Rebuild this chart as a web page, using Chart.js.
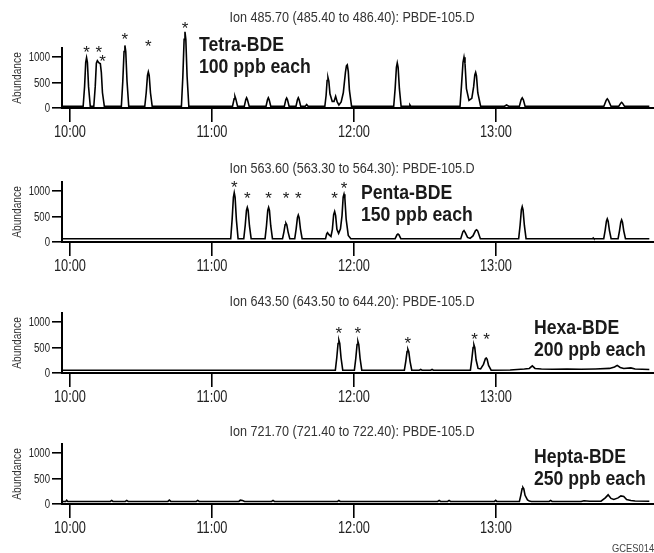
<!DOCTYPE html>
<html>
<head>
<meta charset="utf-8">
<script src="https://cdn.jsdelivr.net/npm/chart.js@4.4.1/dist/chart.umd.min.js"></script>
<style>
  body { margin: 0; background: #fff; }
  #page { position: relative; width: 654px; height: 553px; overflow: hidden; background: #fff; }
  #page canvas { position: absolute; left: 0; }
  #code { position: absolute; left: 612px; top: 542px; font: 11px 'Liberation Sans', Arial, sans-serif; color: #444;
          transform: scaleX(0.85); transform-origin: left top; white-space: nowrap; }
</style>
</head>
<body>
<div id="page">
  <canvas id="c0" width="654" height="140"></canvas>
  <canvas id="c1" width="654" height="140"></canvas>
  <canvas id="c2" width="654" height="140"></canvas>
  <canvas id="c3" width="654" height="140"></canvas>
  <div id="code">GCES014</div>
</div>
<script>
const FONT = "'Liberation Sans', Arial, sans-serif";

// titulos y etiquetas
const ionTitles = [
    'Ion 485.70 (485.40 to 486.40): PBDE-105.D',
    'Ion 563.60 (563.30 to 564.30): PBDE-105.D',
    'Ion 643.50 (643.50 to 644.20): PBDE-105.D',
    'Ion 721.70 (721.40 to 722.40): PBDE-105.D'
];
const groupNames = ['Tetra-BDE', 'Penta-BDE', 'Hexa-BDE', 'Hepta-BDE'];
const groupAmounts = ['100 ppb each', '150 ppb each', '200 ppb each', '250 ppb each'];

const xTicks = [10, 11, 12, 13];
const xTickLabels = ['10:00', '11:00', '12:00', '13:00'];
const yTicks = [0, 500, 1000];
const yTickLabels = ['0', '500', '1000'];

// trazas [minutos, abundancia]
const tetraTrace = [
    [9.944, 35], [10.093, 35], [10.103, 420], [10.111, 900], [10.117, 990], [10.123, 900], [10.131, 420], [10.143, 35],
    [10.168, 35], [10.178, 420], [10.186, 880], [10.193, 930], [10.203, 890], [10.214, 870], [10.221, 700], [10.229, 300], [10.242, 35],
    [10.362, 35], [10.372, 520], [10.381, 1110], [10.387, 1230], [10.393, 1110], [10.402, 520], [10.414, 35],
    [10.527, 35], [10.537, 300], [10.546, 640], [10.552, 710], [10.558, 640], [10.567, 300], [10.579, 35],
    [10.785, 35], [10.795, 620], [10.804, 1350], [10.810, 1500], [10.816, 1350], [10.825, 620], [10.837, 35],
    [11.145, 35], [11.156, 180], [11.162, 230], [11.168, 180], [11.180, 35],
    [11.228, 35], [11.238, 160], [11.244, 200], [11.250, 160], [11.262, 35],
    [11.381, 35], [11.391, 160], [11.397, 200], [11.403, 160], [11.414, 35],
    [11.510, 35], [11.520, 160], [11.526, 195], [11.532, 160], [11.543, 35],
    [11.592, 35], [11.602, 160], [11.608, 200], [11.614, 160], [11.625, 35],
    [11.657, 35], [11.667, 70], [11.677, 35],
    [11.795, 35], [11.804, 250], [11.811, 540], [11.817, 600], [11.823, 530], [11.831, 280], [11.847, 130],
    [11.860, 130], [11.871, 230], [11.882, 120], [11.894, 60], [11.910, 120], [11.925, 300], [11.940, 700],
    [11.947, 830], [11.953, 850], [11.960, 720], [11.968, 350], [11.983, 35],
    [12.280, 35], [12.290, 380], [12.299, 800], [12.305, 885], [12.311, 800], [12.320, 380], [12.332, 35],
    [12.388, 35], [12.394, 60], [12.400, 35],
    [12.747, 35], [12.757, 430], [12.768, 900], [12.775, 1000], [12.782, 880], [12.792, 380], [12.810, 150],
    [12.830, 190], [12.843, 420], [12.851, 650], [12.857, 700], [12.863, 630], [12.872, 300], [12.892, 35],
    [13.060, 35], [13.075, 60], [13.090, 35],
    [13.165, 35], [13.177, 160], [13.185, 200], [13.193, 160], [13.205, 35],
    [13.760, 35], [13.776, 150], [13.784, 180], [13.792, 150], [13.810, 35],
    [13.865, 35], [13.879, 95], [13.885, 110], [13.891, 95], [13.905, 35], [14.080, 35]
];
const pentaTrace = [
    [9.944, 65], [11.132, 65], [11.142, 440], [11.151, 880], [11.157, 970], [11.163, 880], [11.172, 440], [11.184, 65],
    [11.224, 65], [11.234, 320], [11.243, 620], [11.249, 680], [11.255, 620], [11.264, 320], [11.276, 65],
    [11.374, 65], [11.384, 320], [11.393, 620], [11.399, 680], [11.405, 620], [11.414, 320], [11.426, 65],
    [11.497, 65], [11.507, 200], [11.515, 340], [11.521, 370], [11.527, 340], [11.536, 200], [11.548, 65],
    [11.583, 65], [11.593, 260], [11.602, 480], [11.608, 530], [11.614, 480], [11.623, 260], [11.635, 65],
    [11.800, 65], [11.808, 160], [11.814, 185], [11.822, 150], [11.838, 110], [11.848, 250], [11.857, 540],
    [11.864, 600], [11.871, 520], [11.880, 250], [11.892, 170], [11.905, 260], [11.916, 520], [11.924, 880],
    [11.930, 940], [11.936, 860], [11.945, 450], [11.960, 130], [11.978, 65],
    [12.290, 65], [12.303, 140], [12.310, 155], [12.317, 140], [12.330, 65],
    [12.752, 65], [12.767, 200], [12.775, 225], [12.783, 190], [12.800, 90], [12.818, 70], [12.838, 120],
    [12.856, 225], [12.864, 240], [12.872, 215], [12.890, 65],
    [13.160, 65], [13.170, 330], [13.179, 630], [13.185, 695], [13.191, 630], [13.200, 330], [13.212, 65],
    [13.680, 65], [13.685, 80], [13.690, 65],
    [13.759, 65], [13.769, 230], [13.778, 410], [13.784, 455], [13.790, 410], [13.799, 230], [13.811, 65],
    [13.860, 65], [13.870, 220], [13.879, 390], [13.885, 435], [13.891, 390], [13.900, 220], [13.912, 65], [14.080, 65]
];
const hexaTrace = [
    [9.944, 55], [11.869, 55], [11.879, 300], [11.888, 580], [11.894, 640], [11.900, 580], [11.909, 300], [11.921, 55],
    [12.003, 55], [12.013, 290], [12.022, 560], [12.028, 620], [12.034, 560], [12.043, 290], [12.055, 55],
    [12.355, 55], [12.365, 230], [12.374, 420], [12.380, 465], [12.386, 420], [12.395, 230], [12.407, 55],
    [12.460, 55], [12.470, 70], [12.480, 55], [12.540, 55], [12.550, 70], [12.560, 55],
    [12.820, 55], [12.830, 270], [12.839, 500], [12.845, 555], [12.851, 500], [12.860, 260], [12.874, 90],
    [12.892, 80], [12.912, 170], [12.926, 285], [12.932, 295], [12.938, 270], [12.948, 150], [12.966, 55],
    [13.100, 60], [13.150, 70], [13.200, 80], [13.235, 90], [13.256, 140], [13.275, 90],
    [13.320, 80], [13.400, 75], [13.500, 80], [13.600, 75], [13.700, 80], [13.800, 90],
    [13.835, 120], [13.854, 150], [13.875, 110], [13.900, 90], [13.950, 100], [13.980, 80], [14.080, 70]
];
const heptaTrace = [
    [9.944, 50], [9.970, 50], [9.977, 75], [9.985, 50],
    [10.285, 50], [10.294, 70], [10.303, 50], [10.390, 50], [10.400, 70], [10.410, 50],
    [10.690, 50], [10.700, 75], [10.710, 50], [10.890, 50], [10.900, 70], [10.910, 50],
    [11.190, 50], [11.200, 75], [11.215, 70], [11.230, 50], [11.420, 50], [11.430, 70], [11.440, 50],
    [11.885, 50], [11.894, 70], [11.903, 50], [12.590, 50], [12.600, 70], [12.610, 50],
    [12.660, 50], [12.670, 70], [12.680, 50], [12.990, 50], [12.998, 70], [13.006, 50],
    [13.165, 50], [13.175, 170], [13.184, 300], [13.190, 325], [13.196, 300], [13.205, 170], [13.222, 80],
    [13.235, 60], [13.250, 50],
    [13.375, 50], [13.385, 70], [13.395, 50], [13.600, 50], [13.620, 65], [13.660, 55],
    [13.740, 55], [13.770, 120], [13.790, 180], [13.810, 110], [13.830, 90], [13.860, 120],
    [13.880, 160], [13.900, 150], [13.920, 90], [13.950, 70], [13.980, 60], [14.080, 55]
];

// asteriscos [minutos, abundancia del asterisco]
const tetraStars = [[10.117, 1157], [10.204, 1157], [10.230, 992], [10.387, 1418], [10.552, 1275], [10.810, 1633]];
const pentaStars = [[11.157, 1139], [11.249, 924], [11.399, 924], [11.521, 924], [11.608, 924], [11.864, 924], [11.930, 1119]];
const hexaStars = [[11.894, 837], [12.028, 837], [12.380, 641], [12.850, 725], [12.934, 725]];
const heptaStars = [];

const traces = [tetraTrace, pentaTrace, hexaTrace, heptaTrace];
const stars = [tetraStars, pentaStars, hexaStars, heptaStars];

// posicion de cada panel en la pagina
const panelTops = [3, 137, 268, 399];
const titleYs = [15, 32, 34, 33];
const labelPos = [[199, 42], [361, 56], [534, 60], [534, 58]];

// texto angosto (fuente condensada simulada)
const narrowText = (ctx, text, x, y, font, align, squeeze, angle) => {
    ctx.save();
    ctx.translate(x, y);
    if (angle) ctx.rotate(angle);
    ctx.scale(squeeze, 1);
    ctx.font = font;
    ctx.textAlign = align;
    ctx.fillText(text, 0, 0);
    ctx.restore();
};

const panelText = {
    id: 'panelText',
    afterDraw(chart, args, opts) {
        const ctx = chart.ctx;
        const sx = chart.scales.x, sy = chart.scales.y;
        const area = chart.chartArea;
        ctx.save();
        ctx.textBaseline = 'middle';

        ctx.fillStyle = '#333';
        narrowText(ctx, opts.title, 352, opts.titleY, '14px ' + FONT, 'center', 0.9);

        // ticks
        ctx.fillStyle = '#222';
        xTicks.forEach((v, k) => {
            narrowText(ctx, xTickLabels[k], sx.getPixelForValue(v), area.bottom + 25, '16px ' + FONT, 'center', 0.8);
        });
        yTicks.forEach((v, k) => {
            narrowText(ctx, yTickLabels[k], 50, sy.getPixelForValue(v) + 1, '12px ' + FONT, 'right', 0.8);
        });
        ctx.fillStyle = '#333';
        narrowText(ctx, 'Abundance', 18, (area.top + area.bottom) / 2, '12px ' + FONT, 'center', 0.85, -Math.PI / 2);

        // nombre del grupo
        ctx.fillStyle = '#1a1a1a';
        narrowText(ctx, opts.name, opts.labelX, opts.labelY, 'bold 21px ' + FONT, 'left', 0.84);
        narrowText(ctx, opts.amount, opts.labelX, opts.labelY + 22, 'bold 21px ' + FONT, 'left', 0.84);

        // asteriscos
        ctx.font = '17px ' + FONT;
        ctx.textAlign = 'center';
        ctx.textBaseline = 'alphabetic';
        const m = ctx.measureText('*');
        const shift = (m.actualBoundingBoxAscent - m.actualBoundingBoxDescent) / 2;
        opts.stars.forEach(([t, level]) => {
            ctx.fillText('*', sx.getPixelForValue(t), sy.getPixelForValue(level) + shift);
        });
        ctx.restore();
    }
};

Chart.defaults.font.family = FONT;
Chart.defaults.color = '#222';

traces.forEach((trace, i) => {
    const canvas = document.getElementById('c' + i);
    canvas.style.top = panelTops[i] + 'px';

    new Chart(canvas.getContext('2d'), {
        type: 'scatter',
        data: {
            datasets: [{
                data: trace.map(([t, a]) => ({ x: t, y: a })),
                showLine: true,
                borderColor: '#000',
                borderWidth: 1.6,
                pointRadius: 0,
                tension: 0,
                clip: false
            }]
        },
        options: {
            responsive: false,
            animation: false,
            events: [],
            layout: { padding: { top: 45, left: 0, right: 0, bottom: 0 } },
            plugins: {
                legend: { display: false },
                tooltip: { enabled: false },
                panelText: {
                    title: ionTitles[i],
                    titleY: titleYs[i],
                    name: groupNames[i],
                    amount: groupAmounts[i],
                    labelX: labelPos[i][0],
                    labelY: labelPos[i][1],
                    stars: stars[i]
                }
            },
            scales: {
                x: {
                    type: 'linear',
                    min: 9.944,
                    max: 14.113,
                    afterBuildTicks: (scale) => { scale.ticks = xTicks.map(v => ({ value: v })); },
                    afterFit: (scale) => { scale.height = 35; },
                    grid: { drawOnChartArea: false, tickLength: 14, color: '#000', lineWidth: 1.6 },
                    border: { color: '#000', width: 2 },
                    ticks: { display: false }
                },
                y: {
                    min: 0,
                    max: 1180,
                    afterBuildTicks: (scale) => { scale.ticks = yTicks.map(v => ({ value: v })); },
                    afterFit: (scale) => { scale.width = 62; },
                    grid: { drawOnChartArea: false, tickLength: 10, color: '#000', lineWidth: 1.6 },
                    border: { color: '#000', width: 2 },
                    ticks: { display: false }
                }
            }
        },
        plugins: [panelText]
    });
});
</script>
</body>
</html>
